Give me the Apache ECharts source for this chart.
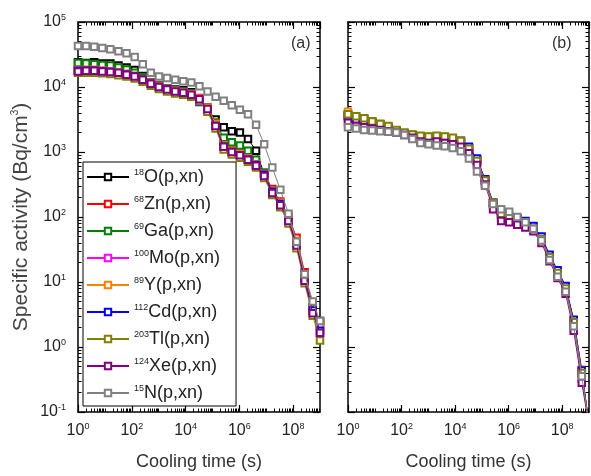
<!DOCTYPE html>
<html>
<head>
<meta charset="utf-8">
<script src="https://cdn.jsdelivr.net/npm/echarts@6/dist/echarts.min.js"></script>
<style>
  html, body { margin: 0; padding: 0; background: #fff; }
  #chart { width: 591px; height: 476px; }
</style>
</head>
<body>
<div id="chart"></div>
<script>
// Cooling times (s) shared by every curve
const coolingTime = [1, 2, 4, 8, 16, 32, 64, 128, 256, 512, 1024, 2048, 4096, 8192,
  16384, 32768, 65536, 131072, 262144, 524288, 1048576, 2097152, 4194304, 8388608,
  16777216, 33554432, 67108864, 134217728, 268435456, 536870912, 1000000000];

// Reaction labels: mass number (superscript) + target symbol
const targetMass = ['18', '68', '69', '100', '89', '112', '203', '124', '15'];
const targetSymbol = ['O', 'Zn', 'Ga', 'Mo', 'Y', 'Cd', 'Tl', 'Xe', 'N'];
const curveColors = ['#000000', '#ff0000', '#008000', '#ff00ff', '#ff8000', '#0000ff', '#808000', '#800080', '#808080'];

// Specific activity, log10(Bq/cm^3) -- panel (a)
const logActA_O18  = [4.38,4.37,4.38,4.36,4.36,4.33,4.30,4.26,4.17,4.07,4.02,3.98,3.96,3.95,3.92,3.79,3.66,3.50,3.38,3.32,3.30,3.20,3.02,2.66,2.40,2.21,1.97,1.62,1.12,0.60,0.40];
const logActA_Zn68 = [4.27,4.27,4.27,4.26,4.25,4.23,4.21,4.18,4.13,4.07,4.02,3.98,3.95,3.93,3.90,3.83,3.69,3.45,3.12,3.03,2.98,2.91,2.83,2.68,2.43,2.24,2.02,1.68,1.15,0.62,0.35];
const logActA_Ga69 = [4.37,4.36,4.35,4.34,4.33,4.30,4.27,4.22,4.15,4.07,4.02,3.98,3.95,3.93,3.90,3.80,3.68,3.45,3.22,3.15,3.10,3.02,2.88,2.68,2.40,2.21,1.97,1.62,1.10,0.58,0.38];
const logActA_Mo100= [4.25,4.25,4.26,4.25,4.24,4.22,4.20,4.17,4.12,4.06,4.01,3.97,3.94,3.92,3.89,3.82,3.67,3.42,3.09,3.01,2.96,2.89,2.80,2.64,2.38,2.20,1.96,1.60,1.07,0.55,0.22];
const logActA_Y89  = [4.26,4.26,4.26,4.25,4.24,4.22,4.20,4.17,4.12,4.06,4.01,3.97,3.94,3.92,3.89,3.82,3.68,3.43,3.10,3.02,2.97,2.90,2.81,2.66,2.40,2.22,1.98,1.63,1.09,0.58,0.30];
const logActA_Cd112= [4.25,4.25,4.25,4.24,4.23,4.21,4.19,4.16,4.11,4.05,4.00,3.96,3.92,3.89,3.85,3.77,3.64,3.40,3.08,3.00,2.95,2.88,2.80,2.65,2.39,2.20,1.94,1.58,1.05,0.56,0.25];
const logActA_Tl203= [4.22,4.22,4.22,4.21,4.20,4.18,4.16,4.13,4.08,4.02,3.97,3.93,3.90,3.88,3.85,3.78,3.62,3.36,3.04,2.96,2.91,2.85,2.76,2.60,2.34,2.15,1.90,1.52,0.98,0.48,0.10];
const logActA_Xe124= [4.24,4.25,4.25,4.24,4.23,4.22,4.19,4.16,4.11,4.05,4.00,3.96,3.93,3.91,3.88,3.81,3.66,3.40,3.08,3.00,2.95,2.88,2.79,2.63,2.37,2.18,1.94,1.56,1.02,0.52,0.22];
const logActA_N15  = [4.63,4.63,4.62,4.60,4.58,4.55,4.52,4.46,4.35,4.22,4.16,4.14,4.11,4.09,4.07,4.01,3.93,3.85,3.79,3.72,3.65,3.58,3.42,3.12,2.76,2.42,2.05,1.62,1.12,0.70,0.40];

// Specific activity, log10(Bq/cm^3) -- panel (b)
const logActB_O18  = [3.56,3.52,3.49,3.45,3.41,3.37,3.32,3.28,3.25,3.22,3.21,3.22,3.21,3.20,3.16,3.05,2.87,2.57,2.21,2.04,1.99,1.96,1.92,1.83,1.67,1.39,1.15,0.91,0.38,-0.40,-1.2];
const logActB_Zn68 = [3.57,3.53,3.50,3.46,3.42,3.38,3.33,3.29,3.26,3.23,3.22,3.23,3.22,3.21,3.17,3.06,2.88,2.57,2.22,2.05,2.00,1.97,1.93,1.84,1.68,1.40,1.16,0.92,0.40,-0.38,-1.2];
const logActB_Ga69 = [3.58,3.54,3.51,3.47,3.43,3.39,3.33,3.29,3.26,3.24,3.23,3.24,3.23,3.21,3.17,3.05,2.87,2.56,2.21,2.04,1.99,1.96,1.92,1.83,1.67,1.39,1.15,0.91,0.38,-0.40,-1.2];
const logActB_Mo100= [3.52,3.48,3.45,3.42,3.39,3.36,3.31,3.27,3.23,3.19,3.18,3.19,3.18,3.17,3.13,3.02,2.84,2.53,2.17,1.99,1.95,1.92,1.88,1.80,1.64,1.36,1.11,0.87,0.32,-0.48,-1.2];
const logActB_Y89  = [3.62,3.55,3.50,3.46,3.42,3.38,3.32,3.28,3.25,3.22,3.21,3.22,3.21,3.20,3.16,3.06,2.88,2.58,2.22,2.04,1.99,1.96,1.92,1.84,1.68,1.40,1.16,0.92,0.40,-0.35,-1.2];
const logActB_Cd112= [3.55,3.50,3.46,3.44,3.40,3.36,3.31,3.27,3.24,3.21,3.20,3.21,3.20,3.19,3.17,3.08,2.90,2.58,2.22,2.05,2.00,1.98,1.94,1.86,1.70,1.42,1.18,0.94,0.42,-0.36,-1.2];
const logActB_Tl203= [3.58,3.55,3.52,3.47,3.43,3.40,3.34,3.30,3.27,3.25,3.24,3.25,3.24,3.22,3.17,3.05,2.86,2.56,2.22,2.05,2.00,1.96,1.91,1.82,1.66,1.38,1.14,0.90,0.38,-0.40,-1.2];
const logActB_Xe124= [3.45,3.40,3.38,3.36,3.34,3.32,3.30,3.26,3.22,3.16,3.14,3.16,3.14,3.12,3.08,2.98,2.80,2.50,2.12,1.94,1.92,1.88,1.84,1.78,1.60,1.32,1.06,0.82,0.25,-0.55,-1.2];
const logActB_N15  = [3.38,3.36,3.34,3.33,3.32,3.31,3.30,3.26,3.20,3.14,3.12,3.10,3.09,3.06,3.01,2.90,2.70,2.48,2.20,2.12,2.08,2.00,1.92,1.82,1.64,1.34,1.08,0.85,0.32,-0.45,-1.2];

const panelA = [logActA_O18, logActA_Zn68, logActA_Ga69, logActA_Mo100, logActA_Y89, logActA_Cd112, logActA_Tl203, logActA_Xe124, logActA_N15];
const panelB = [logActB_O18, logActB_Zn68, logActB_Ga69, logActB_Mo100, logActB_Y89, logActB_Cd112, logActB_Tl203, logActB_Xe124, logActB_N15];

const FONT = '"Liberation Sans", Arial, sans-serif';
const reactionName = i => targetMass[i] + targetSymbol[i] + '(p,xn)';

// Minor tick positions (2..9 × 10^n) for the log frames
function logMinorTicks(lo, hi) {
  const out = [];
  for (let e = lo; e < hi; e++) {
    for (let k = 2; k <= 9; k++) out.push(k * Math.pow(10, e));
    if (e > lo && (e % 2 !== 0)) out.push(Math.pow(10, e));
  }
  return out;
}
const minorX = logMinorTicks(0, 9);
const minorY = logMinorTicks(-1, 5).filter(v => Math.abs(Math.log10(v) - Math.round(Math.log10(v))) > 1e-9);

const powerRich = {
  b: { fontSize: 16, fontFamily: FONT, color: '#222', lineHeight: 18 },
  e: { fontSize: 9, fontFamily: FONT, color: '#222', verticalAlign: 'top' }
};
const powerLabel = v => '{b|10}{e|' + Math.round(Math.log10(v)) + '}';

const frameLine = { show: true, lineStyle: { color: '#000', width: 1.5 } };
const majorTick = { show: true, inside: true, length: 7, lineStyle: { color: '#000', width: 1.2 } };

function xAxisFor(grid, bottom) {
  return {
    type: 'log', logBase: 10, gridIndex: grid, min: 1, max: 1e9, interval: 2,
    position: bottom ? 'bottom' : 'top',
    axisLine: frameLine, axisTick: majorTick,
    splitLine: { show: false },
    axisLabel: bottom ? { show: true, margin: 10, formatter: powerLabel, rich: powerRich, showMaxLabel: false } : { show: false },
    name: bottom ? 'Cooling time (s)' : '', nameLocation: 'middle', nameGap: 41,
    nameTextStyle: { fontSize: 18, fontFamily: FONT, color: '#333' }
  };
}
function xMinorAxisFor(grid, bottom) {
  return {
    type: 'log', logBase: 10, gridIndex: grid, min: 1, max: 1e9,
    position: bottom ? 'bottom' : 'top',
    axisLine: { show: false }, splitLine: { show: false }, axisLabel: { show: false },
    axisTick: { show: true, inside: true, length: 3.5, customValues: minorX, lineStyle: { color: '#000', width: 1 } }
  };
}
function yAxisFor(grid, left, labelled) {
  return {
    type: 'log', logBase: 10, gridIndex: grid, min: 0.1, max: 1e5, interval: 1,
    position: left ? 'left' : 'right',
    axisLine: frameLine, axisTick: majorTick,
    splitLine: { show: false },
    axisLabel: labelled ? { show: true, margin: 12, formatter: powerLabel, rich: powerRich } : { show: false },
    name: labelled ? '{t|Specific activity (Bq/cm}{s|3}{t|)}' : '',
    nameLocation: 'middle', nameGap: 46,
    nameTextStyle: {
      rich: {
        t: { fontSize: 21, fontFamily: FONT, color: '#444', lineHeight: 22 },
        s: { fontSize: 10, fontFamily: FONT, color: '#444', verticalAlign: 'top' }
      }
    }
  };
}
function yMinorAxisFor(grid, left) {
  return {
    type: 'log', logBase: 10, gridIndex: grid, min: 0.1, max: 1e5,
    position: left ? 'left' : 'right',
    axisLine: { show: false }, splitLine: { show: false }, axisLabel: { show: false },
    axisTick: { show: true, inside: true, length: 3.5, customValues: minorY, lineStyle: { color: '#000', width: 1 } }
  };
}

function makeSeries(values, i, xIdx, yIdx) {
  return {
    type: 'line', name: reactionName(i), xAxisIndex: xIdx, yAxisIndex: yIdx,
    data: coolingTime.map((t, k) => [t, Math.pow(10, values[k])]),
    symbol: 'emptyRect', symbolSize: 6.5, showSymbol: true,
    lineStyle: { color: curveColors[i], width: 1 },
    itemStyle: { color: curveColors[i], borderWidth: 1.1 },
    clip: true, animation: false, z: 2 + i
  };
}

const series = [];
panelA.forEach((v, i) => series.push(makeSeries(v, i, 0, 0)));
panelB.forEach((v, i) => series.push(makeSeries(v, i, 2, 2)));

const chart = echarts.init(document.getElementById('chart'), null, { renderer: 'canvas' });
chart.setOption({
  backgroundColor: '#fff',
  animation: false,
  grid: [
    { left: 78, top: 22, width: 242, height: 392 },
    { left: 348, top: 22, width: 241, height: 392 }
  ],
  xAxis: [
    xAxisFor(0, true), xAxisFor(0, false), xAxisFor(1, true), xAxisFor(1, false),
    xMinorAxisFor(0, true), xMinorAxisFor(0, false), xMinorAxisFor(1, true), xMinorAxisFor(1, false)
  ],
  yAxis: [
    yAxisFor(0, true, true), yAxisFor(0, false, false), yAxisFor(1, true, false), yAxisFor(1, false, false),
    yMinorAxisFor(0, true), yMinorAxisFor(0, false), yMinorAxisFor(1, true), yMinorAxisFor(1, false)
  ],
  legend: {
    orient: 'vertical', left: 83, top: 162,
    padding: [6, 16, 4, 3], itemGap: 9, itemWidth: 42, itemHeight: 8,
    borderColor: '#000', borderWidth: 1, backgroundColor: '#fff',
    data: targetMass.map((m, i) => reactionName(i)),
    formatter: name => {
      const i = targetMass.findIndex((m, k) => reactionName(k) === name);
      return '{s|' + targetMass[i] + '}{t|' + targetSymbol[i] + '(p,xn)}';
    },
    textStyle: {
      rich: {
        t: { fontSize: 18, fontFamily: FONT, color: '#222', lineHeight: 18 },
        s: { fontSize: 9, fontFamily: FONT, color: '#222', verticalAlign: 'top' }
      }
    }
  },
  graphic: [
    { type: 'text', left: 291, top: 36, style: { text: '(a)', font: '16px ' + FONT, fill: '#333' } },
    { type: 'text', left: 552, top: 36, style: { text: '(b)', font: '16px ' + FONT, fill: '#333' } }
  ],
  series: series
});
</script>
</body>
</html>
